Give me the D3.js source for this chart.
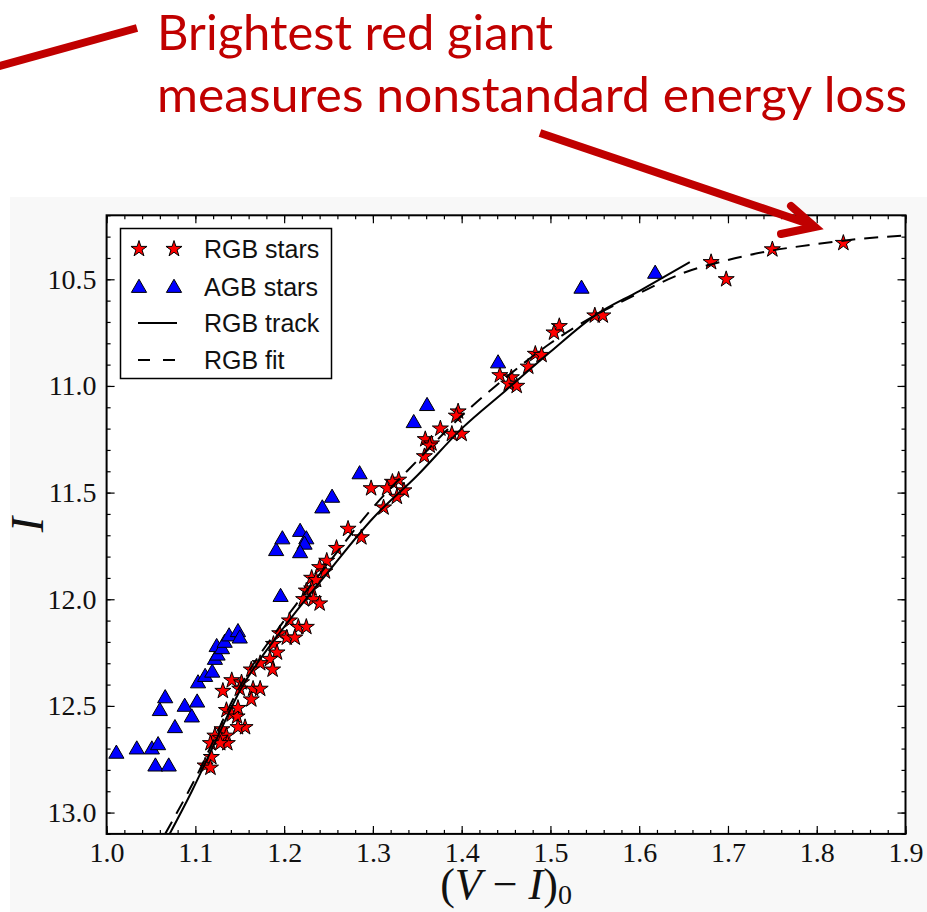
<!DOCTYPE html>
<html>
<head>
<meta charset="utf-8">
<script src="https://d3js.org/d3.v7.min.js"></script>
<style>
  body { margin: 0; background: #fff; }
  svg { display: block; }
</style>
</head>
<body>
<script>
// RGB stars: colour (V-I)0 and magnitude I
const rgbV = [1.830, 1.750, 1.681, 1.698, 1.550, 1.559, 1.510, 1.504, 1.483, 1.490,
  1.475, 1.443, 1.456, 1.453, 1.462, 1.396, 1.394, 1.376, 1.389, 1.400,
  1.359, 1.366, 1.364, 1.358, 1.329, 1.322, 1.316, 1.335, 1.327, 1.298,
  1.312, 1.272, 1.287, 1.259, 1.248, 1.240, 1.246, 1.231, 1.236, 1.225,
  1.231, 1.222, 1.233, 1.240, 1.206, 1.216, 1.225, 1.195, 1.203, 1.212,
  1.188, 1.192, 1.184, 1.173, 1.163, 1.187, 1.141, 1.152, 1.165, 1.173,
  1.131, 1.150, 1.163, 1.135, 1.141, 1.147, 1.148, 1.156, 1.148, 1.130,
  1.122, 1.135, 1.128, 1.117, 1.136, 1.128, 1.118, 1.111, 1.117];
const rgbI = [10.33, 10.36, 10.42, 10.50, 10.67, 10.67, 10.72, 10.75, 10.85, 10.855,
  10.91, 10.95, 10.96, 10.99, 11.00, 11.12, 11.14, 11.20, 11.225, 11.225,
  11.25, 11.27, 11.28, 11.33, 11.44, 11.45, 11.48, 11.49, 11.52, 11.48,
  11.57, 11.67, 11.71, 11.76, 11.82, 11.85, 11.87, 11.90, 11.91, 11.96,
  11.95, 12.00, 12.00, 12.02, 12.10, 12.13, 12.13, 12.16, 12.18, 12.18,
  12.21, 12.25, 12.28, 12.30, 12.33, 12.33, 12.38, 12.39, 12.42, 12.42,
  12.43, 12.42, 12.47, 12.52, 12.54, 12.55, 12.51, 12.60, 12.60, 12.61,
  12.64, 12.64, 12.65, 12.675, 12.675, 12.675, 12.74, 12.78, 12.79];

// AGB stars
const agbV = [1.011, 1.034, 1.051, 1.058, 1.055, 1.070, 1.077, 1.060, 1.066, 1.088,
  1.096, 1.102, 1.103, 1.111, 1.119, 1.122, 1.125, 1.124, 1.130, 1.133,
  1.138, 1.148, 1.150, 1.196, 1.191, 1.198, 1.218, 1.225, 1.223, 1.218,
  1.243, 1.254, 1.285, 1.346, 1.361, 1.441, 1.535, 1.618];
const agbI = [12.72, 12.70, 12.70, 12.68, 12.78, 12.78, 12.60, 12.52, 12.46, 12.50,
  12.55, 12.48, 12.39, 12.36, 12.34, 12.28, 12.26, 12.22, 12.23, 12.20,
  12.17, 12.15, 12.18, 11.985, 11.77, 11.715, 11.68, 11.715, 11.74, 11.78,
  11.57, 11.52, 11.41, 11.17, 11.09, 10.89, 10.54, 10.47];

// RGB track (solid) and RGB fit (dashed)
const trackV = [1.071, 1.096, 1.12, 1.15, 1.20, 1.25, 1.30, 1.35, 1.40, 1.45, 1.50, 1.55, 1.60, 1.657];
const trackI = [13.10, 12.90, 12.69, 12.43, 12.13, 11.87, 11.62, 11.42, 11.20, 11.02, 10.84, 10.67, 10.555, 10.42];
const fitV = [1.066, 1.10, 1.15, 1.20, 1.25, 1.30, 1.35, 1.40, 1.45, 1.50, 1.55, 1.60, 1.65, 1.70, 1.75, 1.80, 1.85, 1.90];
const fitI = [13.10, 12.84, 12.41, 12.10, 11.83, 11.57, 11.35, 11.14, 10.96, 10.80, 10.67, 10.565, 10.47, 10.41, 10.365, 10.335, 10.31, 10.295];

// ticks
const xTicks = [1.0, 1.1, 1.2, 1.3, 1.4, 1.5, 1.6, 1.7, 1.8, 1.9];
const yTicks = [10.5, 11.0, 11.5, 12.0, 12.5, 13.0];

const legendLabels = ["RGB stars", "AGB stars", "RGB track", "RGB fit"];
const noteLines = ["Brightest red giant", "measures nonstandard energy loss"];

const rgb = rgbV.map((v, i) => ({ v: v, m: rgbI[i] }));
const agb = agbV.map((v, i) => ({ v: v, m: agbI[i] }));
const track = trackV.map((v, i) => ({ v: v, m: trackI[i] }));
const fit = fitV.map((v, i) => ({ v: v, m: fitI[i] }));

const svg = d3.select("body").append("svg")
  .attr("width", 927)
  .attr("height", 912);

// light grey backdrop of the pasted figure
svg.append("rect")
  .attr("x", 10).attr("y", 197)
  .attr("width", 917).attr("height", 715)
  .attr("fill", "#f8f8f8");

const x = d3.scaleLinear().domain([1.0, 1.9]).range([106.6, 905.5]);
const y = d3.scaleLinear().domain([10.2, 13.1]).range([215.3, 833.9]);

const x0 = x.range()[0], x1 = x.range()[1];
const y0 = y.range()[0], y1 = y.range()[1];

svg.append("rect")
  .attr("x", x0).attr("y", y0)
  .attr("width", x1 - x0).attr("height", y1 - y0)
  .attr("fill", "#fff");

svg.append("clipPath").attr("id", "plotclip")
  .append("rect")
  .attr("x", x0).attr("y", y0)
  .attr("width", x1 - x0).attr("height", y1 - y0);

const plot = svg.append("g").attr("clip-path", "url(#plotclip)");

const star = d3.symbol().type(d3.symbolStar).size(80);
const tri = d3.symbol().type(d3.symbolTriangle).size(100);

plot.selectAll(".rgb")
  .data(rgb)
  .join("path")
  .attr("class", "rgb")
  .attr("transform", d => `translate(${x(d.v)},${y(d.m)})`)
  .attr("d", star)
  .attr("fill", "#ff0000")
  .attr("stroke", "#000")
  .attr("stroke-width", 1);

plot.selectAll(".agb")
  .data(agb)
  .join("path")
  .attr("class", "agb")
  .attr("transform", d => `translate(${x(d.v)},${y(d.m) + 1})`)
  .attr("d", tri)
  .attr("fill", "#0000ff")
  .attr("stroke", "#000")
  .attr("stroke-width", 1);

const line = d3.line()
  .x(d => x(d.v))
  .y(d => y(d.m))
  .curve(d3.curveMonotoneX);

plot.append("path")
  .datum(track)
  .attr("d", line)
  .attr("fill", "none")
  .attr("stroke", "#000")
  .attr("stroke-width", 2);

plot.append("path")
  .datum(fit)
  .attr("d", line)
  .attr("fill", "none")
  .attr("stroke", "#000")
  .attr("stroke-width", 2)
  .attr("stroke-dasharray", "14,9");

// axes with inward ticks on all four sides
const xMinor = d3.range(1.0, 1.9001, 0.02);
const yMinor = d3.range(10.2, 13.1001, 0.1);
const fmt = d3.format(".1f");

function styleAxis(g) {
  g.select(".domain").remove();
  g.selectAll("line").attr("stroke", "#000").attr("stroke-width", 1.2);
  g.selectAll("text")
    .attr("fill", "#111")
    .style("font-family", "'Liberation Serif', serif")
    .style("font-size", "28px");
}

svg.append("g")
  .attr("transform", `translate(0,${y1})`)
  .call(d3.axisBottom(x).tickValues(xTicks).tickFormat(fmt).tickSize(-8).tickPadding(8))
  .call(styleAxis);
svg.append("g")
  .attr("transform", `translate(0,${y1})`)
  .call(d3.axisBottom(x).tickValues(xMinor).tickFormat("").tickSize(-4))
  .call(styleAxis);
svg.append("g")
  .attr("transform", `translate(0,${y0})`)
  .call(d3.axisTop(x).tickValues(xTicks).tickFormat("").tickSize(-8))
  .call(styleAxis);
svg.append("g")
  .attr("transform", `translate(0,${y0})`)
  .call(d3.axisTop(x).tickValues(xMinor).tickFormat("").tickSize(-4))
  .call(styleAxis);

svg.append("g")
  .attr("transform", `translate(${x0},0)`)
  .call(d3.axisLeft(y).tickValues(yTicks).tickFormat(fmt).tickSize(-8).tickPadding(10))
  .call(styleAxis);
svg.append("g")
  .attr("transform", `translate(${x0},0)`)
  .call(d3.axisLeft(y).tickValues(yMinor).tickFormat("").tickSize(-4))
  .call(styleAxis);
svg.append("g")
  .attr("transform", `translate(${x1},0)`)
  .call(d3.axisRight(y).tickValues(yTicks).tickFormat("").tickSize(-8))
  .call(styleAxis);
svg.append("g")
  .attr("transform", `translate(${x1},0)`)
  .call(d3.axisRight(y).tickValues(yMinor).tickFormat("").tickSize(-4))
  .call(styleAxis);

svg.append("rect")
  .attr("x", x0).attr("y", y0)
  .attr("width", x1 - x0).attr("height", y1 - y0)
  .attr("fill", "none")
  .attr("stroke", "#000")
  .attr("stroke-width", 2);

// axis labels
const xl = svg.append("text")
  .attr("x", (x0 + x1) / 2)
  .attr("y", 899)
  .attr("text-anchor", "middle")
  .style("font-family", "'Liberation Serif', serif")
  .style("font-size", "44px")
  .attr("fill", "#111");
xl.append("tspan").text("(");
xl.append("tspan").style("font-style", "italic").text("V");
xl.append("tspan").text(" \u2212 ");
xl.append("tspan").style("font-style", "italic").text("I");
xl.append("tspan").text(")");
xl.append("tspan").attr("dy", 5).style("font-size", "28px").text("0");

svg.append("text")
  .attr("transform", `translate(43,${(y0 + y1) / 2}) rotate(-90)`)
  .attr("text-anchor", "middle")
  .style("font-family", "'Liberation Serif', serif")
  .style("font-style", "italic")
  .style("font-size", "46px")
  .attr("fill", "#111")
  .text("I");

// legend
const leg = svg.append("g");
leg.append("rect")
  .attr("x", 120.5).attr("y", 228.5)
  .attr("width", 211).attr("height", 150)
  .attr("fill", "#fff")
  .attr("stroke", "#000")
  .attr("stroke-width", 1.5);
const rowY = [249, 287, 323, 360];
[139, 174].forEach(mx => {
  leg.append("path")
    .attr("transform", `translate(${mx},${rowY[0]})`)
    .attr("d", star)
    .attr("fill", "#ff0000").attr("stroke", "#000");
  leg.append("path")
    .attr("transform", `translate(${mx},${rowY[1] + 1})`)
    .attr("d", tri)
    .attr("fill", "#0000ff").attr("stroke", "#000");
});
leg.append("line")
  .attr("x1", 138).attr("x2", 177)
  .attr("y1", rowY[2]).attr("y2", rowY[2])
  .attr("stroke", "#000").attr("stroke-width", 2);
leg.append("line")
  .attr("x1", 138).attr("x2", 177)
  .attr("y1", rowY[3]).attr("y2", rowY[3])
  .attr("stroke", "#000").attr("stroke-width", 2)
  .attr("stroke-dasharray", "12,13");
leg.selectAll("text.lab")
  .data(legendLabels)
  .join("text")
  .attr("class", "lab")
  .attr("x", 204)
  .attr("y", (d, i) => rowY[i])
  .attr("dy", "0.36em")
  .style("font-family", "'Liberation Sans', Arial, sans-serif")
  .style("font-size", "25px")
  .attr("fill", "#111")
  .text(d => d);

// annotation
const red = "#c00000";
svg.append("line")
  .attr("x1", -4).attr("y1", 67)
  .attr("x2", 137).attr("y2", 28)
  .attr("stroke", red).attr("stroke-width", 8);
svg.append("line")
  .attr("x1", 540).attr("y1", 133)
  .attr("x2", 812).attr("y2", 225)
  .attr("stroke", red).attr("stroke-width", 8);
svg.append("path")
  .attr("d", "M791,206 L815,227 L781,234")
  .attr("fill", "none")
  .attr("stroke", red)
  .attr("stroke-width", 8)
  .attr("stroke-linecap", "round")
  .attr("stroke-linejoin", "miter");

const noteY = [50, 112];
const noteW = [396, 750];
svg.selectAll("text.note")
  .data(noteLines)
  .join("text")
  .attr("class", "note")
  .attr("x", 157)
  .attr("y", (d, i) => noteY[i])
  .attr("textLength", (d, i) => noteW[i])
  .attr("lengthAdjust", "spacingAndGlyphs")
  .style("font-family", "Lato, 'Open Sans', sans-serif")
  .style("font-size", "48px")
  .attr("fill", red)
  .text(d => d);
</script>
</body>
</html>
